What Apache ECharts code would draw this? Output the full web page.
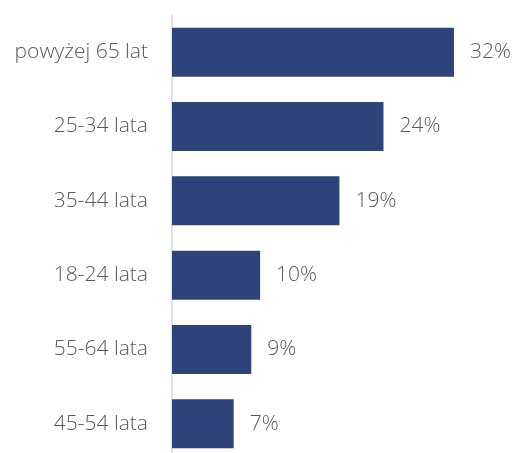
<!DOCTYPE html>
<html>
<head>
<meta charset="utf-8">
<script src="https://cdn.jsdelivr.net/npm/echarts@6/dist/echarts.min.js"></script>
<style>
  html, body { margin: 0; padding: 0; background: #ffffff; }
  #chart { width: 513px; height: 453px; }
</style>
</head>
<body>
<div id="chart"></div>
<script>
// Age groups, top to bottom, and their shares in percent
const categories = ['powyżej 65 lat', '25-34 lata', '35-44 lata', '18-24 lata', '55-64 lata', '45-54 lata'];
const shares = [32, 24, 19, 10, 9, 7];

const chart = echarts.init(document.getElementById('chart'), null, { renderer: 'canvas' });

const textStyle = {
  color: '#595959',
  fontFamily: '"Open Sans", sans-serif',
  fontWeight: 300,
  fontSize: 21
};

chart.setOption({
  animation: false,
  backgroundColor: '#ffffff',
  grid: {
    left: 172, top: 15, width: 308.4, height: 446,
    containLabel: false,
    outerBoundsMode: 'none'
  },
  xAxis: {
    type: 'value',
    min: 0,
    max: 35,
    show: false
  },
  yAxis: {
    type: 'category',
    data: categories,
    inverse: true,
    axisLine: { show: true, lineStyle: { color: '#d9d9d9', width: 1.5 } },
    axisTick: { show: false },
    axisLabel: Object.assign({ margin: 24 }, textStyle)
  },
  series: [{
    type: 'bar',
    data: shares,
    barWidth: 49,
    itemStyle: { color: '#2e4379' },
    label: Object.assign({
      show: true,
      position: 'right',
      distance: 16,
      formatter: p => p.value + '%'
    }, textStyle)
  }]
});
</script>
</body>
</html>
